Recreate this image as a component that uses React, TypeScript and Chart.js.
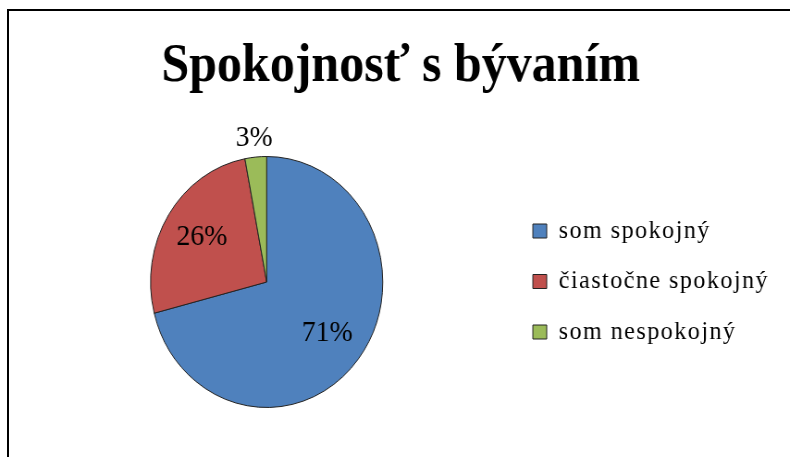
import React, { useEffect, useRef } from 'react';
import { Chart, registerables, Legend } from 'chart.js';

Chart.register(...registerables);

// ---- data ----
const TITLE = 'Spokojnosť s bývaním';
const categories = ['som spokojný', 'čiastočne spokojný', 'som nespokojný'];
const values = [71, 26, 3];
const colors = ['#4F81BD', '#C0504D', '#9BBB59'];

// ---- style ----
const SERIF = "'Liberation Serif', 'Times New Roman', serif";
const SCALE_X = 0.925;
const BASE_W = Math.round(790 / SCALE_X);
const H = 457;
const LEGEND_LETTER_SPACING = '1.6px';

// widen legend text spacing (the reference renders it with loose spacing)
const LegendEl: any = (Legend as any)._element;
if (LegendEl && !LegendEl.__patched) {
  const wrap = (fn: any) =>
    function (this: any, ...args: any[]) {
      const ctx = this.ctx;
      const prev = ctx.letterSpacing;
      ctx.letterSpacing = LEGEND_LETTER_SPACING;
      try {
        return fn.apply(this, args);
      } finally {
        ctx.letterSpacing = prev;
      }
    };
  LegendEl.prototype.fit = wrap(LegendEl.prototype.fit);
  LegendEl.prototype.draw = wrap(LegendEl.prototype.draw);
  LegendEl.__patched = true;
}

const pieLabels = {
  id: 'pieLabels',
  afterDatasetsDraw(chart: any) {
    const meta = chart.getDatasetMeta(0);
    const data = chart.data.datasets[0].data as number[];
    const total = data.reduce((a, b) => a + b, 0);
    const ctx = chart.ctx;
    ctx.save();
    ctx.font = `30px ${SERIF}`;
    ctx.fillStyle = '#000';
    ctx.textAlign = 'center';
    ctx.textBaseline = 'middle';
    meta.data.forEach((arc: any, i: number) => {
      const p = arc.getProps(['x', 'y', 'startAngle', 'endAngle', 'outerRadius'], true);
      const pct = (data[i] / total) * 100;
      const mid = (p.startAngle + p.endAngle) / 2;
      const r = pct < 10 ? p.outerRadius * 1.15 : p.outerRadius * 0.66;
      ctx.fillText(Math.round(pct) + '%', p.x + Math.cos(mid) * r, p.y + Math.sin(mid) * r);
    });
    ctx.restore();
  },
};

export default function App() {
  const canvasRef = useRef<HTMLCanvasElement | null>(null);

  useEffect(() => {
    document.body.style.margin = '0';
    const canvas = canvasRef.current;
    if (!canvas) return;
    const chart = new Chart(canvas, {
      type: 'pie',
      data: {
        labels: categories,
        datasets: [
          {
            data: values,
            backgroundColor: colors,
            borderColor: '#222',
            borderWidth: 1,
          },
        ],
      },
      options: {
        animation: false,
        responsive: true,
        maintainAspectRatio: false,
        events: [],
        layout: { padding: { top: 10, left: 25, right: 12.6, bottom: 49 } },
        plugins: {
          title: {
            display: true,
            text: TITLE,
            color: '#000',
            font: { family: SERIF, size: 54, weight: 'bold', lineHeight: 1.2 },
            padding: { top: 25, bottom: 56.2 },
          },
          legend: {
            position: 'right',
            align: 'center',
            title: {
              display: true,
              text: '',
              font: { size: 10, lineHeight: 1 },
              padding: { top: 0, bottom: 135 },
            },
            labels: {
              color: '#000',
              font: { family: SERIF, size: 26, lineHeight: 1.2 },
              boxWidth: 15,
              boxHeight: 14,
              padding: 24.5,
            },
          },
          tooltip: { enabled: false },
        },
      },
      plugins: [pieLabels],
    });
    return () => chart.destroy();
  }, []);

  return (
    <div style={{ position: 'relative', width: 790, height: H, overflow: 'hidden', background: '#fff' }}>
      <div
        style={{
          position: 'absolute',
          left: 7,
          top: 9,
          width: 900,
          height: 600,
          border: '2px solid #000',
          boxSizing: 'border-box',
        }}
      />
      <div
        style={{
          position: 'absolute',
          left: 0,
          top: 0,
          width: BASE_W,
          height: H,
          transform: `scaleX(${SCALE_X})`,
          transformOrigin: '0 0',
        }}
      >
        <canvas ref={canvasRef} />
      </div>
    </div>
  );
}
